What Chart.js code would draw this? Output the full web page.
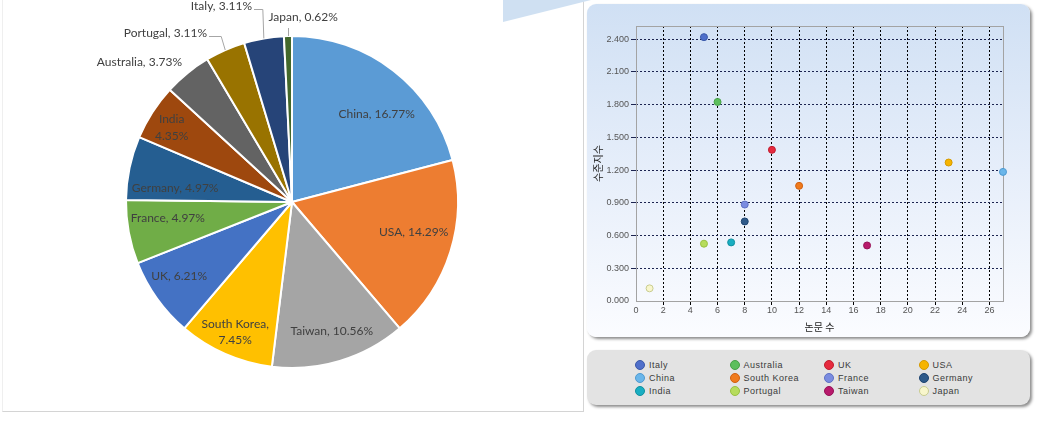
<!DOCTYPE html>
<html>
<head>
<meta charset="utf-8">
<script src="https://cdn.jsdelivr.net/npm/chart.js@4/dist/chart.umd.min.js"></script>
<style>
  html, body { margin:0; padding:0; background:#fff; width:1048px; height:421px; overflow:hidden; }
  #leftPanel { position:absolute; left:2px; top:-1px; width:580px; height:412px; border-left:1px solid #efefef; border-right:1px solid #d4d4d4; border-bottom:1px solid #d4d4d4; background:#fff; }
  #tri { position:absolute; left:503px; top:0; width:88px; height:22px; background:#cfe0f2; clip-path:polygon(0 0, 100% 0, 0 100%); }
  #pieWrap { position:absolute; left:0; top:0; }
  #card { position:absolute; left:587px; top:4px; width:443px; height:333px; border-radius:9px;
          background:linear-gradient(to bottom, #d0e0f4 0%, #e6eefa 50%, #fbfcff 100%);
          box-shadow:2px 2px 3px rgba(0,0,0,0.45); }
  #card canvas { position:absolute; left:0; top:0; }
  #legendCard { position:absolute; left:587px; top:350px; width:443px; height:55px; border-radius:9px;
          background:#e3e3e3; box-shadow:2px 2px 3px rgba(0,0,0,0.45); }
  .lg { position:absolute; height:13px; font-family:"Liberation Sans", Arial, sans-serif; font-size:9px; letter-spacing:0.5px; color:#3a3a3a; line-height:13px; white-space:nowrap; }
  .lg i { display:inline-block; width:10px; height:10px; border-radius:50%; vertical-align:-2px; margin-right:4px; box-sizing:border-box; }
</style>
</head>
<body>
<div id="leftPanel"></div>
<div id="tri"></div>
<div id="pieWrap"><canvas id="pie" width="584" height="404"></canvas></div>
<div id="card"><canvas id="scatter" width="443" height="333"></canvas></div>
<div id="legendCard"></div>
<script>
// ---------- Pie data ----------
const pieLabels = ['China','USA','Taiwan','South Korea','UK','France','Germany','India','Australia','Portugal','Italy','Japan'];
const pieCounts = [27,23,17,12,10,8,8,7,6,5,5,1];
const piePercent = ['16.77%','14.29%','10.56%','7.45%','6.21%','4.97%','4.97%','4.35%','3.73%','3.11%','3.11%','0.62%'];
const pieColors = ['#5b9bd5','#ed7d31','#a5a5a5','#ffc000','#4472c4','#70ad47','#255e91','#9e480e','#636363','#997300','#264478','#43682b'];

// ---------- Scatter data ----------
const scatterCountries = ['Italy','Australia','UK','USA','China','South Korea','France','Germany','India','Portugal','Taiwan','Japan'];
const paperCounts = [5,6,10,23,27,12,8,8,7,5,17,1];
const levelIndex = [2.418,1.824,1.385,1.269,1.183,1.055,0.884,0.729,0.537,0.525,0.509,0.116];
const pointColors = ['#4f6fca','#5cbf5c','#e62a3e','#f6b400','#6ab6ea','#f07a1c','#7a8ce0','#2e5a8a','#19aec2','#b6dc5c','#b81a6c','#f8f6cc'];
const pointBorders = ['#3a58a8','#46a046','#c01e30','#d49a00','#4e9ad0','#d06010','#5e70c4','#1e4470','#10909f','#98c040','#961256','#c8cc90'];
const xTickStep = 2, yTickStep = 0.3;

// ---------- Pie label layout (angle clockwise from top in degrees, radius fraction) ----------
const insideLabelLayout = {
  0:{a:44.0,f:0.734}, 1:{a:103.8,f:0.755}, 2:{a:162.9,f:0.815}, 3:{a:203.6,f:0.855,multi:true},
  4:{a:236.6,f:0.814}, 5:{a:262.4,f:0.755}, 6:{a:276.8,f:0.709}, 7:{a:301.8,f:0.853,multi:true}
};
// outside labels: offset of text anchor from pie centre; leader: elbow style
const outsideLabelLayout = {
  8:{dx:-110,dy:-139.5,align:'right',leader:null},
  9:{dx:-85,dy:-168.5,align:'right',leader:{gap:2,dy:2,elbowBack:4}},
  10:{dx:-40,dy:-195.5,align:'right',leader:{gap:2,dy:2,elbowBack:1}},
  11:{dx:-23.5,dy:-185,align:'left',leader:{vertical:true,fromY:-174}}
};

const pieLabelPlugin = {
  id:'pieLabels',
  afterDatasetsDraw(chart){
    const ctx = chart.ctx;
    const meta = chart.getDatasetMeta(0);
    ctx.save();
    ctx.font = '12px Lato, "Liberation Sans", sans-serif';
    ctx.fillStyle = '#404040';
    ctx.textBaseline = 'middle';
    meta.data.forEach((arc, i) => {
      const {x:cx, y:cy, outerRadius:r, startAngle, endAngle} = arc.getProps(['x','y','outerRadius','startAngle','endAngle'], true);
      const name = pieLabels[i], pct = piePercent[i];
      if (insideLabelLayout[i]) {
        const L = insideLabelLayout[i];
        const ang = (L.a - 90) * Math.PI/180;
        const px = cx + r*L.f*Math.cos(ang), py = cy + r*L.f*Math.sin(ang);
        ctx.textAlign = 'center';
        if (L.multi) {
          ctx.fillText(name + (i===3 ? ',' : ''), px, py - 8.3);
          ctx.fillText(pct, px, py + 8.3);
        } else {
          ctx.fillText(name + ', ' + pct, px, py);
        }
      } else if (outsideLabelLayout[i]) {
        const L = outsideLabelLayout[i];
        const tx = cx + L.dx, ty = cy + L.dy;
        const text = name + ', ' + pct;
        ctx.textAlign = L.align;
        ctx.fillText(text, tx, ty);
        if (L.leader) {
          const mid = (startAngle + endAngle)/2;
          const ex = cx + r*Math.cos(mid), ey = cy + r*Math.sin(mid);
          ctx.strokeStyle = '#a6a6a6';
          ctx.lineWidth = 1;
          ctx.beginPath();
          if (L.leader.vertical) {
            ctx.moveTo(Math.round(ex)+0.5, cy + L.leader.fromY);
            ctx.lineTo(Math.round(ex)+0.5, ey);
          } else {
            const sx = tx + L.leader.gap, sy = Math.round(ty + L.leader.dy) + 0.5;
            ctx.moveTo(sx, sy);
            ctx.lineTo(ex - L.leader.elbowBack, sy);
            ctx.lineTo(ex, ey);
          }
          ctx.stroke();
        }
      }
    });
    ctx.restore();
  }
};

new Chart(document.getElementById('pie'), {
  type:'pie',
  data:{ labels:pieLabels, datasets:[{ data:pieCounts, backgroundColor:pieColors, borderColor:'#ffffff', borderWidth:2, radius:166 }] },
  options:{
    responsive:false, animation:false,
    layout:{padding:0},
    plugins:{ legend:{display:false}, tooltip:{enabled:false} }
  },
  plugins:[pieLabelPlugin]
});

// ---------- Scatter ----------
const framePlugin = {
  id:'frame',
  beforeDatasetsDraw(chart){
    const {ctx, chartArea:a} = chart;
    ctx.save();
    ctx.strokeStyle = '#a3a3a3';
    ctx.lineWidth = 1;
    ctx.strokeRect(Math.round(a.left)+0.5, Math.round(a.top)+0.5, Math.round(a.right-a.left), Math.round(a.bottom-a.top));
    ctx.restore();
  }
};

const tickFont = {family:'"Liberation Sans", Arial, sans-serif', size:9};
const titleFont = {family:'"Noto Sans CJK KR", sans-serif', size:10};

new Chart(document.getElementById('scatter'), {
  type:'scatter',
  data:{
    datasets: scatterCountries.map((c,i)=>({
      label:c,
      data:[{x:paperCounts[i], y:levelIndex[i]}],
      backgroundColor:pointColors[i],
      borderColor:pointBorders[i],
      borderWidth:1,
      pointRadius:3.5,
      clip:false
    }))
  },
  options:{
    responsive:false, animation:false,
    layout:{padding:{top:22,right:27,left:0,bottom:0}},
    plugins:{ legend:{display:false}, tooltip:{enabled:false} },
    scales:{
      x:{
        type:'linear', min:0, max:27,
        ticks:{stepSize:xTickStep, includeBounds:false, font:tickFont, color:'#555', padding:0, maxRotation:0, autoSkip:false},
        grid:{color:(c)=> c.tick && c.tick.value===0 ? 'rgba(0,0,0,0)' : '#000', lineWidth:1, tickLength:4, drawTicks:true},
        border:{display:false, dash:[2,2]},
        title:{display:true, text:'논문 수', font:titleFont, color:'#222', padding:{top:0,bottom:4}},
        afterFit(s){ s.height = 36; }
      },
      y:{
        type:'linear', min:0, max:2.52,
        ticks:{stepSize:yTickStep, includeBounds:false, font:tickFont, color:'#555', padding:2, callback:(v)=>Number(v).toFixed(3)},
        grid:{color:(c)=> c.tick && c.tick.value===0 ? 'rgba(0,0,0,0)' : '#1c2450', lineWidth:1, tickLength:5},
        border:{display:false, dash:[2,2]},
        title:{display:true, text:'수준지수', font:titleFont, color:'#222', padding:{top:5,bottom:0}},
        afterFit(s){ s.width = 49; }
      }
    }
  },
  plugins:[framePlugin]
});

// ---------- Legend (HTML, built from the scatter arrays) ----------
const legendOrder = ['Italy','Australia','UK','USA','China','South Korea','France','Germany','India','Portugal','Taiwan','Japan'];
const lc = document.getElementById('legendCard');
legendOrder.forEach((name, k) => {
  const i = scatterCountries.indexOf(name);
  const col = k % 4, row = Math.floor(k / 4);
  const d = document.createElement('div');
  d.className = 'lg';
  d.style.left = (48 + col*94.5) + 'px';
  d.style.top = (8.5 + row*13.35) + 'px';
  d.innerHTML = '<i style="background:'+pointColors[i]+';border:1px solid '+pointBorders[i]+'"></i>' + name;
  lc.appendChild(d);
});
</script>
</body>
</html>
